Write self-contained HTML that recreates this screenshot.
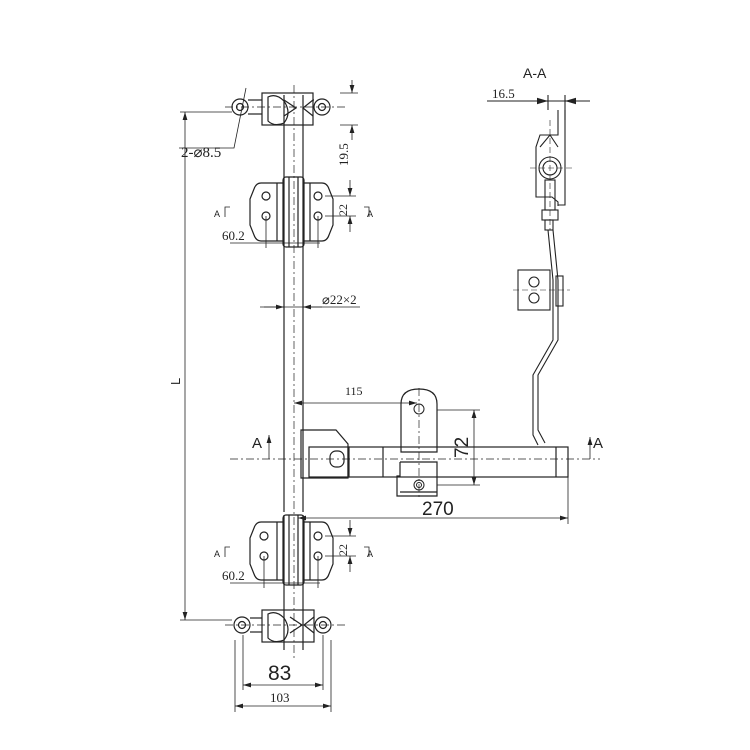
<!DOCTYPE html>
<html><head><style>body{margin:0;background:#fff}svg{display:block}</style></head><body>
<svg width="750" height="750" viewBox="0 0 750 750" xmlns="http://www.w3.org/2000/svg" font-family="Liberation Serif, serif" fill="none" stroke="#222" stroke-width="1">
<defs><marker id="a" markerWidth="10" markerHeight="6" refX="10" refY="3" orient="auto-start-reverse"><path d="M0,0L10,3L0,6z" fill="#222" stroke="none"/></marker></defs>
<!-- rod -->
<g stroke-width="1.2">
<line x1="284" y1="95" x2="284" y2="512"/><line x1="303" y1="95" x2="303" y2="512"/>
<line x1="284" y1="515" x2="284" y2="650"/><line x1="303" y1="515" x2="303" y2="650"/>
</g>
<line x1="294" y1="85" x2="294" y2="660" stroke-dasharray="8,3,2,3" stroke-width="0.7"/>
<!-- top hinge -->
<g stroke-width="1.2">
<circle cx="240" cy="107" r="8"/><circle cx="240" cy="107" r="3.5"/>
<circle cx="322" cy="107" r="8"/><circle cx="322" cy="107" r="3.5"/>
<line x1="248" y1="100" x2="262" y2="100"/><line x1="248" y1="114" x2="262" y2="114"/>
<line x1="313" y1="100" x2="314" y2="100"/>
<rect x="262" y="93" width="51" height="32"/>
<path d="M268,97 q8,-4 16,4 q8,12 0,22 q-10,4 -16,-2z"/>
<path d="M284,100 l12,8 l-12,8"/><path d="M313,100 l-10,8 l10,8"/>
</g>
<line x1="225" y1="107" x2="345" y2="107" stroke-dasharray="8,3,2,3" stroke-width="0.7"/>
<!-- bottom hinge -->
<g stroke-width="1.2">
<circle cx="242" cy="625" r="8"/><circle cx="242" cy="625" r="3.5"/>
<circle cx="323" cy="625" r="8"/><circle cx="323" cy="625" r="3.5"/>
<line x1="250" y1="618" x2="262" y2="618"/><line x1="250" y1="632" x2="262" y2="632"/>
<rect x="262" y="610" width="52" height="32"/>
<path d="M268,614 q8,-4 16,4 q8,12 0,22 q-10,4 -16,-2z"/>
<path d="M290,617 l12,8 l-12,8"/><path d="M314,617 l-10,8 l10,8"/>
</g>
<line x1="225" y1="625" x2="345" y2="625" stroke-dasharray="8,3,2,3" stroke-width="0.7"/>
<!-- leaves -->
<g stroke-width="1.2">
<path d="M283,183 h-22 q-5,0 -7,6 l-4,10 v26 l4,10 q2,6 7,6 h22"/>
<path d="M304,183 h18 q5,0 7,6 l4,10 v26 l-4,10 q-2,6 -7,6 h-18"/>
<line x1="277" y1="183" x2="277" y2="241"/><line x1="310" y1="183" x2="310" y2="241"/>
<rect x="283" y="177" width="21" height="70" rx="3"/>
<line x1="289" y1="177" x2="289" y2="247"/><line x1="298" y1="177" x2="298" y2="247"/>
<path d="M283,522 h-22 q-5,0 -7,6 l-4,10 v26 l4,10 q2,6 7,6 h22"/>
<path d="M304,522 h18 q5,0 7,6 l4,10 v26 l-4,10 q-2,6 -7,6 h-18"/>
<line x1="277" y1="522" x2="277" y2="580"/><line x1="310" y1="522" x2="310" y2="580"/>
<rect x="283" y="515" width="21" height="70" rx="3"/>
<line x1="289" y1="515" x2="289" y2="585"/><line x1="298" y1="515" x2="298" y2="585"/>
</g>
<g stroke-width="1.2">
<circle cx="266" cy="196" r="4"/><circle cx="266" cy="216" r="4"/><circle cx="318" cy="196" r="4"/><circle cx="318" cy="216" r="4"/>
<circle cx="264" cy="536" r="4"/><circle cx="264" cy="556" r="4"/><circle cx="318" cy="536" r="4"/><circle cx="318" cy="556" r="4"/>
</g>
<!-- handle -->
<g stroke-width="1.2">
<path d="M301,430 h35 l12,14 v34 h-47z"/>
<rect x="309" y="447" width="40" height="30"/>
<rect x="348" y="447" width="220" height="30"/>
<line x1="383" y1="447" x2="383" y2="477"/><line x1="556" y1="447" x2="556" y2="477"/>
<path d="M401,452 v-48 q0,-15 18,-15 q18,0 18,15 v48z"/>
<path d="M400,462 h37 v30 h-37 M400,462 v14 h-3 v20 h40 v-30"/>
<rect x="330" y="451" width="14" height="16" rx="6"/>
</g>
<circle cx="419" cy="409" r="5"/><circle cx="419" cy="485" r="5"/><circle cx="419" cy="485" r="2.5"/>
<line x1="230" y1="459" x2="600" y2="459" stroke-dasharray="8,3,2,3" stroke-width="0.7"/>
<line x1="419" y1="388" x2="419" y2="500" stroke-dasharray="8,3,2,3" stroke-width="0.7"/>
<!-- dimensions -->
<g stroke-width="0.8">
<line x1="185" y1="112" x2="185" y2="620" marker-start="url(#a)" marker-end="url(#a)"/>
<line x1="180" y1="112" x2="232" y2="112"/><line x1="180" y1="620" x2="232" y2="620"/>
<path d="M246,88 l-12,60 h-55"/>
<line x1="340" y1="93" x2="358" y2="93"/><line x1="340" y1="125" x2="358" y2="125"/>
<line x1="352" y1="80" x2="352" y2="93" marker-end="url(#a)"/><line x1="352" y1="140" x2="352" y2="125" marker-end="url(#a)"/>
<line x1="260" y1="307" x2="360" y2="307"/><line x1="264" y1="307" x2="284" y2="307" marker-end="url(#a)"/><line x1="322" y1="307" x2="303" y2="307" marker-end="url(#a)"/>
<line x1="230" y1="243" x2="320" y2="243"/><line x1="266" y1="216" x2="266" y2="248"/><line x1="318" y1="216" x2="318" y2="248"/>
<line x1="230" y1="583" x2="320" y2="583"/><line x1="264" y1="556" x2="264" y2="588"/><line x1="318" y1="556" x2="318" y2="588"/>
<line x1="325" y1="196" x2="356" y2="196"/><line x1="325" y1="216" x2="356" y2="216"/>
<line x1="350" y1="180" x2="350" y2="196" marker-end="url(#a)"/><line x1="350" y1="232" x2="350" y2="216" marker-end="url(#a)"/>
<line x1="325" y1="536" x2="356" y2="536"/><line x1="325" y1="556" x2="356" y2="556"/>
<line x1="350" y1="520" x2="350" y2="536" marker-end="url(#a)"/><line x1="350" y1="572" x2="350" y2="556" marker-end="url(#a)"/>
<line x1="294" y1="403" x2="417" y2="403" marker-start="url(#a)" marker-end="url(#a)"/>
<line x1="437" y1="410" x2="480" y2="410"/><line x1="437" y1="485" x2="480" y2="485"/>
<line x1="474" y1="410" x2="474" y2="485" marker-start="url(#a)" marker-end="url(#a)"/>
<line x1="298" y1="518" x2="568" y2="518" marker-start="url(#a)" marker-end="url(#a)"/><line x1="568" y1="477" x2="568" y2="524"/>
<line x1="235" y1="640" x2="235" y2="712"/><line x1="243" y1="635" x2="243" y2="690"/><line x1="323" y1="635" x2="323" y2="690"/><line x1="331" y1="640" x2="331" y2="712"/>
<line x1="243" y1="685" x2="323" y2="685" marker-start="url(#a)" marker-end="url(#a)"/>
<line x1="235" y1="706" x2="331" y2="706" marker-start="url(#a)" marker-end="url(#a)"/>
<line x1="269" y1="459" x2="269" y2="435" marker-end="url(#a)"/><line x1="590" y1="459" x2="590" y2="437" marker-end="url(#a)"/>
<path d="M225,217 v-10 h5 M364,207 h5 v10 M225,557 v-10 h5 M364,547 h5 v10"/>
</g>
<!-- section A-A -->
<g stroke-width="1.1">
<line x1="487" y1="101" x2="590" y2="101"/>
<line x1="548" y1="95" x2="548" y2="110"/><line x1="565" y1="95" x2="565" y2="120"/>
<path d="M540,101 l8,0" marker-end="url(#a)"/><path d="M575,101 l-10,0" marker-end="url(#a)"/>
<path d="M558,110 v25 h-18 l-4,12 v50 h16 l6,5 v4 M565,110 v95 h-7"/>
<path d="M540,147 l10,-12 l8,12"/>
<circle cx="550" cy="168" r="11"/><circle cx="550" cy="168" r="7"/>
<rect x="545" y="180" width="10" height="30"/>
<rect x="542" y="210" width="16" height="10"/>
<rect x="545" y="220" width="8" height="10"/>
<path d="M548,230 l5,50 v60 l-20,35 v60 l5,10 M553,230 l5,50 v60 l-20,35 v55 l7,13"/>
<rect x="518" y="270" width="32" height="40"/>
<rect x="556" y="276" width="7" height="30"/>
<circle cx="534" cy="282" r="5"/><circle cx="534" cy="298" r="5"/>
</g>
<line x1="530" y1="168" x2="572" y2="168" stroke-dasharray="6,3" stroke-width="0.6"/>
<line x1="550" y1="120" x2="550" y2="230" stroke-dasharray="6,3" stroke-width="0.6"/>
<line x1="513" y1="290" x2="570" y2="290" stroke-dasharray="6,3" stroke-width="0.6"/>
<!-- text -->
<g fill="#222" stroke="none">
<text x="181" y="157" font-size="15">2-⌀8.5</text>
<text transform="translate(348,166) rotate(-90)" font-size="13">19.5</text>
<text x="322" y="304" font-size="13">⌀22×2</text>
<text x="222" y="240" font-size="13">60.2</text>
<text x="222" y="580" font-size="13">60.2</text>
<text transform="translate(347,216) rotate(-90)" font-size="12">22</text>
<text transform="translate(347,556) rotate(-90)" font-size="12">22</text>
<text x="214" y="217" font-size="9" font-family="Liberation Sans, sans-serif">A</text>
<text x="367" y="217" font-size="9" font-family="Liberation Sans, sans-serif">A</text>
<text x="214" y="557" font-size="9" font-family="Liberation Sans, sans-serif">A</text>
<text x="367" y="557" font-size="9" font-family="Liberation Sans, sans-serif">A</text>
<text transform="translate(180,385) rotate(-90)" font-size="13" font-family="Liberation Sans, sans-serif">L</text>
<text x="345" y="395" font-size="12">115</text>
<text transform="translate(468,458) rotate(-90)" font-size="19" font-family="Liberation Sans, sans-serif">72</text>
<text x="422" y="515" font-size="19" font-family="Liberation Sans, sans-serif">270</text>
<text x="252" y="448" font-size="15" font-family="Liberation Sans, sans-serif">A</text>
<text x="593" y="448" font-size="15" font-family="Liberation Sans, sans-serif">A</text>
<text x="268" y="680" font-size="21" font-family="Liberation Sans, sans-serif">83</text>
<text x="270" y="702" font-size="13">103</text>
<text x="523" y="78" font-size="14" font-family="Liberation Sans, sans-serif">A-A</text>
<text x="492" y="98" font-size="13">16.5</text>
</g>
</svg>
</body></html>
